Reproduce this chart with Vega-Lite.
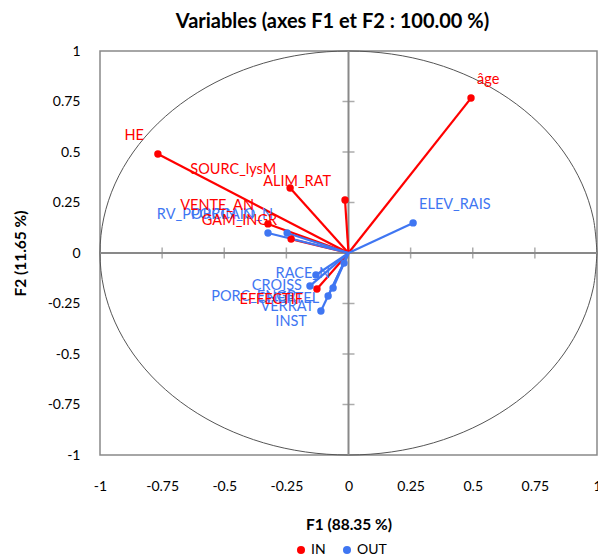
{
  "$schema": "https://vega.github.io/schema/vega-lite/v6.json",
  "width": 497,
  "height": 404,
  "autosize": "none",
  "padding": {"left": 100, "top": 51, "right": 1, "bottom": 103},
  "background": "white",
  "config": {
    "view": {"stroke": "#898989", "strokeWidth": 1.5},
    "font": "Lato",
    "axis": {
      "labelExpr": "toString(datum.value)",
      "grid": false, "domain": false, "ticks": false, "tickSize": 0,
      "labelFontSize": 14, "labelFont": "Lato", "labelColor": "#000",
      "labelFlush": false, "labelOverlap": false,
      "titleFont": "Lato", "titleFontSize": 15.5, "titleFontWeight": "bold", "titleColor": "#000"
    },
    "axisX": {"labelPadding": 24, "titlePadding": 24},
    "axisY": {"labelPadding": 20, "titlePadding": 19},
    "legend": {
      "orient": "none",
      "legendX": 194,
      "legendY": 492,
      "direction": "horizontal",
      "title": null,
      "symbolType": "circle",
      "symbolSize": 65,
      "symbolStrokeWidth": 0,
      "labelFontSize": 14,
      "labelFont": "Lato",
      "labelColor": "#000",
      "labelOffset": 3,
      "columnPadding": 14
    }
  },
  "title": {
    "text": "Variables (axes F1 et F2 : 100.00 %)",
    "font": "Lato",
    "fontSize": 20,
    "fontWeight": "bold",
    "color": "#000",
    "anchor": "middle",
    "frame": "group",
    "baseline": "alphabetic",
    "offset": 17,
    "dx": -16,
    "dy": 21
  },
  "datasets": {
    "pts": [
      {"name": "âge", "g": "IN", "x": 0.493, "y": 0.767},
      {"name": "HE", "g": "IN", "x": -0.767, "y": 0.49},
      {"name": "SOURC_lysM", "g": "IN", "x": -0.235, "y": 0.322},
      {"name": "ALIM_RAT", "g": "IN", "x": -0.014, "y": 0.262},
      {"name": "VENTE_AN", "g": "IN", "x": -0.324, "y": 0.144},
      {"name": "GAM_INGR", "g": "IN", "x": -0.231, "y": 0.069},
      {"name": "EFFECTIF", "g": "IN", "x": -0.127, "y": -0.178},
      {"name": "ELEV_RAIS", "g": "OUT", "x": 0.26, "y": 0.149},
      {"name": "RV_PORCIN_N", "g": "OUT", "x": -0.324, "y": 0.099},
      {"name": "PORCAIO_N", "g": "OUT", "x": -0.247, "y": 0.099},
      {"name": "RACE_N", "g": "OUT", "x": -0.018, "y": -0.05},
      {"name": "CROISS", "g": "OUT", "x": -0.131, "y": -0.109},
      {"name": "PORC_ENGR", "g": "OUT", "x": -0.155, "y": -0.163},
      {"name": "CHEPTEL", "g": "OUT", "x": -0.062, "y": -0.173},
      {"name": "VERRAT", "g": "OUT", "x": -0.082, "y": -0.213},
      {"name": "INST", "g": "OUT", "x": -0.111, "y": -0.287}
    ],
    "circle": [
      {"a": 0, "x": 1, "y": 0},
      {"a": 1, "x": 0.9848, "y": 0.1736},
      {"a": 2, "x": 0.9397, "y": 0.342},
      {"a": 3, "x": 0.866, "y": 0.5},
      {"a": 4, "x": 0.766, "y": 0.6428},
      {"a": 5, "x": 0.6428, "y": 0.766},
      {"a": 6, "x": 0.5, "y": 0.866},
      {"a": 7, "x": 0.342, "y": 0.9397},
      {"a": 8, "x": 0.1736, "y": 0.9848},
      {"a": 9, "x": 0, "y": 1},
      {"a": 10, "x": -0.1736, "y": 0.9848},
      {"a": 11, "x": -0.342, "y": 0.9397},
      {"a": 12, "x": -0.5, "y": 0.866},
      {"a": 13, "x": -0.6428, "y": 0.766},
      {"a": 14, "x": -0.766, "y": 0.6428},
      {"a": 15, "x": -0.866, "y": 0.5},
      {"a": 16, "x": -0.9397, "y": 0.342},
      {"a": 17, "x": -0.9848, "y": 0.1736},
      {"a": 18, "x": -1, "y": 0},
      {"a": 19, "x": -0.9848, "y": -0.1736},
      {"a": 20, "x": -0.9397, "y": -0.342},
      {"a": 21, "x": -0.866, "y": -0.5},
      {"a": 22, "x": -0.766, "y": -0.6428},
      {"a": 23, "x": -0.6428, "y": -0.766},
      {"a": 24, "x": -0.5, "y": -0.866},
      {"a": 25, "x": -0.342, "y": -0.9397},
      {"a": 26, "x": -0.1736, "y": -0.9848},
      {"a": 27, "x": 0, "y": -1},
      {"a": 28, "x": 0.1736, "y": -0.9848},
      {"a": 29, "x": 0.342, "y": -0.9397},
      {"a": 30, "x": 0.5, "y": -0.866},
      {"a": 31, "x": 0.6428, "y": -0.766},
      {"a": 32, "x": 0.766, "y": -0.6428},
      {"a": 33, "x": 0.866, "y": -0.5},
      {"a": 34, "x": 0.9397, "y": -0.342},
      {"a": 35, "x": 0.9848, "y": -0.1736},
      {"a": 36, "x": 1, "y": 0}
    ],
    "ticks": [
      {"v": -0.75}, {"v": -0.5}, {"v": -0.25}, {"v": 0}, {"v": 0.25}, {"v": 0.5}, {"v": 0.75}
    ]
  },
  "layer": [
    {
      "data": {"name": "circle"},
      "mark": {"type": "line", "color": "#555555", "strokeWidth": 1, "interpolate": "cardinal"},
      "encoding": {
        "x": {"field": "x", "type": "quantitative", "scale": {"domain": [-1, 1], "nice": false, "zero": false}, "title": "F1 (88.35 %)",
              "axis": {"values": [-1, -0.75, -0.5, -0.25, 0, 0.25, 0.5, 0.75, 1]}},
        "y": {"field": "y", "type": "quantitative", "scale": {"domain": [-1, 1], "nice": false, "zero": false}, "title": "F2 (11.65 %)",
              "axis": {"values": [-1, -0.75, -0.5, -0.25, 0, 0.25, 0.5, 0.75, 1]}},
        "order": {"field": "a", "type": "quantitative"}
      }
    },
    {
      "data": {"values": [{}]},
      "mark": {"type": "rule", "color": "#898989", "strokeWidth": 2},
      "encoding": {
        "x": {"datum": -1, "type": "quantitative", "title": "F1 (88.35 %)"},
        "x2": {"datum": 1},
        "y": {"datum": 0, "type": "quantitative", "title": "F2 (11.65 %)"}
      }
    },
    {
      "data": {"values": [{}]},
      "mark": {"type": "rule", "color": "#898989", "strokeWidth": 2},
      "encoding": {
        "y": {"datum": -1, "type": "quantitative", "title": "F2 (11.65 %)"},
        "y2": {"datum": 1},
        "x": {"datum": 0, "type": "quantitative", "title": "F1 (88.35 %)"}
      }
    },
    {
      "data": {"name": "ticks"},
      "mark": {"type": "tick", "orient": "vertical", "color": "#898989", "size": 11, "thickness": 1.5},
      "encoding": {
        "x": {"field": "v", "type": "quantitative", "title": "F1 (88.35 %)"},
        "y": {"datum": 0, "type": "quantitative", "title": "F2 (11.65 %)"}
      }
    },
    {
      "data": {"name": "ticks"},
      "mark": {"type": "tick", "orient": "horizontal", "color": "#898989", "size": 12, "thickness": 1.5},
      "encoding": {
        "y": {"field": "v", "type": "quantitative", "title": "F2 (11.65 %)"},
        "x": {"datum": 0, "type": "quantitative", "title": "F1 (88.35 %)"}
      }
    },
    {
      "data": {"name": "pts"},
      "mark": {"type": "rule", "strokeWidth": 2.2},
      "encoding": {
        "x": {"field": "x", "type": "quantitative", "title": "F1 (88.35 %)"},
        "y": {"field": "y", "type": "quantitative", "title": "F2 (11.65 %)"},
        "x2": {"datum": 0},
        "y2": {"datum": 0},
        "color": {"field": "g", "type": "nominal", "scale": {"domain": ["IN", "OUT"], "range": ["#FF0000", "#3F76F2"]}},
        "order": {"field": "g", "sort": "ascending"}
      }
    },
    {
      "data": {"name": "pts"},
      "mark": {"type": "point", "filled": true, "shape": "circle", "size": 55, "opacity": 1},
      "encoding": {
        "x": {"field": "x", "type": "quantitative", "title": "F1 (88.35 %)"},
        "y": {"field": "y", "type": "quantitative", "title": "F2 (11.65 %)"},
        "color": {"field": "g", "type": "nominal", "scale": {"domain": ["IN", "OUT"], "range": ["#FF0000", "#3F76F2"]}},
        "order": {"field": "g", "sort": "ascending"}
      }
    },
    {
      "data": {"name": "pts"},
      "transform": [{"filter": "datum.x > 0"}],
      "mark": {"type": "text", "align": "left", "baseline": "middle", "dx": 6, "dy": -18, "fontSize": 14.5, "font": "Lato"},
      "encoding": {
        "x": {"field": "x", "type": "quantitative", "title": "F1 (88.35 %)"},
        "y": {"field": "y", "type": "quantitative", "title": "F2 (11.65 %)"},
        "text": {"field": "name"},
        "color": {"field": "g", "type": "nominal"}
      }
    },
    {
      "data": {"name": "pts"},
      "transform": [{"filter": "datum.x < 0 && datum.y > 0"}],
      "mark": {"type": "text", "align": "right", "baseline": "middle", "dx": -14, "dy": -18, "fontSize": 14.5, "font": "Lato"},
      "encoding": {
        "x": {"field": "x", "type": "quantitative", "title": "F1 (88.35 %)"},
        "y": {"field": "y", "type": "quantitative", "title": "F2 (11.65 %)"},
        "text": {"field": "name"},
        "color": {"field": "g", "type": "nominal"},
        "order": {"field": "g", "sort": "descending"}
      }
    },
    {
      "data": {"name": "pts"},
      "transform": [{"filter": "datum.x < 0 && datum.y < 0"}],
      "mark": {"type": "text", "align": "right", "baseline": "middle", "dx": -14, "dy": 11, "fontSize": 14.5, "font": "Lato"},
      "encoding": {
        "x": {"field": "x", "type": "quantitative", "title": "F1 (88.35 %)"},
        "y": {"field": "y", "type": "quantitative", "title": "F2 (11.65 %)"},
        "text": {"field": "name"},
        "color": {"field": "g", "type": "nominal"},
        "order": {"field": "g", "sort": "descending"}
      }
    }
  ]
}
